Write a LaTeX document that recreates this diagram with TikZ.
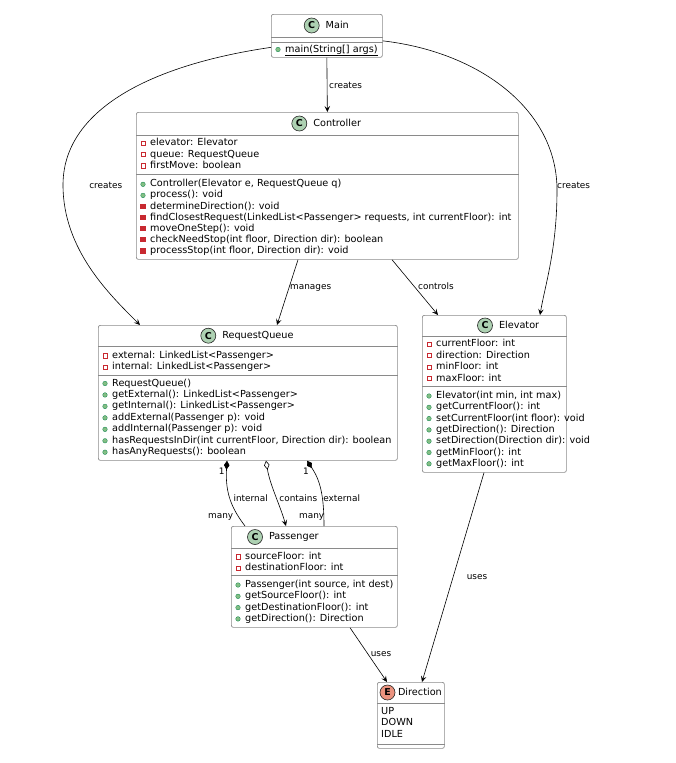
\documentclass[tikz,border=0pt]{standalone}
\usepackage{fontspec}
\setmainfont{DejaVu Sans}
\usetikzlibrary{arrows.meta, positioning}

\definecolor{classgreen}{HTML}{ADD1B2}
\definecolor{enumred}{HTML}{EB937F}
\definecolor{privred}{HTML}{C82930}
\definecolor{pubgreen}{HTML}{84BE84}
\definecolor{pubdark}{HTML}{038048}
\definecolor{boxline}{HTML}{8A8A8A}

% member icons: private field, private method, public method
\newcommand{\iconpf}[2]{\draw[privred, line width=0.6pt] ({#1-2.2},{#2-2.2}) rectangle ({#1+2.2},{#2+2.2});}
\newcommand{\iconpm}[2]{\fill[privred] ({#1-2.6},{#2-2.6}) rectangle ({#1+2.6},{#2+2.6});}
\newcommand{\iconum}[2]{\filldraw[fill=pubgreen, draw=pubdark, line width=0.3pt] ({#1},{#2}) circle (2.3pt);}
% one member row: kind, name, box left, y, text
\newcommand{\mrow}[5]{\csname icon#1\endcsname{#3+7}{#4}
  \node[member] (#2) at ({#3+14},{#4}) {#5};}

\begin{document}
\begin{tikzpicture}[x=1pt, y=-1pt,
    classbox/.style={draw=boxline, fill=white, line width=0.7pt, rounded corners=2pt, anchor=north west, inner sep=0pt},
    member/.style={anchor=west, inner sep=0pt, text height=7pt, text depth=2pt, font=\fontsize{9.7}{11}\selectfont},
    title/.style={member, right=6pt of #1},
    badge/.style={circle, draw=black!85, line width=0.6pt, minimum size=15pt, inner sep=0pt, font=\fontsize{9.5}{10}\bfseries\selectfont},
    elabel/.style={inner sep=0pt, text height=7pt, text depth=2pt, font=\fontsize{8.9}{10}\selectfont},
    uses/.style={draw=black, line width=0.6pt, -{Stealth[length=6pt, width=5.5pt, inset=2.5pt]}},
    compo/.style={draw=black, line width=0.6pt, {Diamond[length=9pt, width=5.5pt]}-},
    aggr/.style={draw=black, line width=0.6pt, {Diamond[open, length=9pt, width=5.5pt]}-{Stealth[length=6pt, width=5.5pt, inset=2.5pt]}}]
  \useasboundingbox (0,0) rectangle (675,763);

  % Main
  \node[classbox, minimum width=111pt, minimum height=43pt] (main) at (271,14) {};
  \node[badge, fill=classgreen] (main-c) at (311.7,25.5) {C};
  \node[title=main-c] (main-t) {Main};
  \draw[boxline, line width=0.7pt] (main.west |- 0,37) -- (main.east |- 0,37);
  \draw[boxline, line width=0.7pt] (main.west |- 0,42) -- (main.east |- 0,42);
  \mrow{um}{main-m1}{271}{49.5}{\underline{main(String[] args)}}

  % Controller
  \node[classbox, minimum width=382pt, minimum height=147pt] (ctrl) at (136,112) {};
  \node[badge, fill=classgreen] (ctrl-c) at (299.3,123.5) {C};
  \node[title=ctrl-c] (ctrl-t) {Controller};
  \draw[boxline, line width=0.7pt] (ctrl.west |- 0,135) -- (ctrl.east |- 0,135);
  \draw[boxline, line width=0.7pt] (ctrl.west |- 0,174.5) -- (ctrl.east |- 0,174.5);
  \foreach \k/\t [count=\i] in {pf/{elevator: Elevator}, pf/{queue: RequestQueue}, pf/{firstMove: boolean}}
    {\mrow{\k}{ctrl-f\i}{136}{143.3+(\i-1)*11.2}{\t}}
  \foreach \k/\t [count=\i] in {um/{Controller(Elevator e, RequestQueue q)}, um/{process(): void},
      pm/{determineDirection(): void}, pm/{findClosestRequest(LinkedList<Passenger> requests, int currentFloor): int},
      pm/{moveOneStep(): void}, pm/{checkNeedStop(int floor, Direction dir): boolean},
      pm/{processStop(int floor, Direction dir): void}}
    {\mrow{\k}{ctrl-m\i}{136}{184.3+(\i-1)*11.1}{\t}}

  % RequestQueue
  \node[classbox, minimum width=299pt, minimum height=135pt] (rq) at (98,325) {};
  \node[badge, fill=classgreen] (rq-c) at (208.3,335.7) {C};
  \node[title=rq-c] (rq-t) {RequestQueue};
  \draw[boxline, line width=0.7pt] (rq.west |- 0,346.5) -- (rq.east |- 0,346.5);
  \draw[boxline, line width=0.7pt] (rq.west |- 0,375) -- (rq.east |- 0,375);
  \foreach \k/\t [count=\i] in {pf/{external: LinkedList<Passenger>}, pf/{internal: LinkedList<Passenger>}}
    {\mrow{\k}{rq-f\i}{98}{355.7+(\i-1)*11.5}{\t}}
  \foreach \k/\t [count=\i] in {um/{RequestQueue()}, um/{getExternal(): LinkedList<Passenger>},
      um/{getInternal(): LinkedList<Passenger>}, um/{addExternal(Passenger p): void},
      um/{addInternal(Passenger p): void}, um/{hasRequestsInDir(int currentFloor, Direction dir): boolean},
      um/{hasAnyRequests(): boolean}}
    {\mrow{\k}{rq-m\i}{98}{383.5+(\i-1)*11.45}{\t}}

  % Elevator
  \node[classbox, minimum width=144pt, minimum height=157pt] (elev) at (422,315) {};
  \node[badge, fill=classgreen] (elev-c) at (485,325.5) {C};
  \node[title=elev-c] (elev-t) {Elevator};
  \draw[boxline, line width=0.7pt] (elev.west |- 0,336) -- (elev.east |- 0,336);
  \draw[boxline, line width=0.7pt] (elev.west |- 0,386.5) -- (elev.east |- 0,386.5);
  \foreach \k/\t [count=\i] in {pf/{currentFloor: int}, pf/{direction: Direction}, pf/{minFloor: int}, pf/{maxFloor: int}}
    {\mrow{\k}{elev-f\i}{422}{344+(\i-1)*11.5}{\t}}
  \foreach \k/\t [count=\i] in {um/{Elevator(int min, int max)}, um/{getCurrentFloor(): int},
      um/{setCurrentFloor(int floor): void}, um/{getDirection(): Direction},
      um/{setDirection(Direction dir): void}, um/{getMinFloor(): int}, um/{getMaxFloor(): int}}
    {\mrow{\k}{elev-m\i}{422}{396+(\i-1)*11.3}{\t}}

  % Passenger
  \node[classbox, minimum width=166pt, minimum height=101pt] (pass) at (231,526) {};
  \node[badge, fill=classgreen] (pass-c) at (255,537) {C};
  \node[title=pass-c] (pass-t) {Passenger};
  \draw[boxline, line width=0.7pt] (pass.west |- 0,548) -- (pass.east |- 0,548);
  \draw[boxline, line width=0.7pt] (pass.west |- 0,575) -- (pass.east |- 0,575);
  \foreach \k/\t [count=\i] in {pf/{sourceFloor: int}, pf/{destinationFloor: int}}
    {\mrow{\k}{pass-f\i}{231}{556.7+(\i-1)*11.5}{\t}}
  \foreach \k/\t [count=\i] in {um/{Passenger(int source, int dest)}, um/{getSourceFloor(): int},
      um/{getDestinationFloor(): int}, um/{getDirection(): Direction}}
    {\mrow{\k}{pass-m\i}{231}{585+(\i-1)*11.3}{\t}}

  % Direction (enum)
  \node[classbox, minimum width=67pt, minimum height=66pt] (dir) at (377,682) {};
  \node[badge, fill=enumred] (dir-c) at (387.5,692.5) {E};
  \node[member, right=2.5pt of dir-c] (dir-t) {Direction};
  \draw[boxline, line width=0.7pt] (dir.west |- 0,703) -- (dir.east |- 0,703);
  \draw[boxline, line width=0.7pt] (dir.west |- 0,744) -- (dir.east |- 0,744);
  \node[member] (dir-v1) at (381,711.7) {UP};
  \node[member] (dir-v2) at (381,723.3) {DOWN};
  \node[member] (dir-v3) at (381,735) {IDLE};

  % connectors
  \draw[uses] (main.south) -- (ctrl.north);
  \node[elabel, anchor=west] (l-cr1) at (329,86) {creates};
  \draw[uses] ([yshift=-11.5pt]main.west) .. controls (150,65) and (63,110) .. (63,185)
    .. controls (63,250) and (110,295) .. ([xshift=42pt]rq.north west);
  \node[elabel] (l-cr2) at (105.7,186) {creates};
  \draw[uses] ([yshift=-5pt]main.east) .. controls (480,52) and (557,110) .. (557,190)
    .. controls (557,250) and (545,285) .. ([xshift=118pt]elev.north west);
  \node[elabel, anchor=west] (l-cr3) at (557,186) {creates};

  \draw[uses] ([xshift=162pt]ctrl.south west) -- ([xshift=179pt]rq.north west);
  \node[elabel, anchor=west] (l-man) at (290,287) {manages};
  \draw[uses] ([xshift=256pt]ctrl.south west) -- ([xshift=16pt]elev.north west);
  \node[elabel, anchor=west] (l-con) at (418,287) {controls};

  \draw[compo] ([xshift=129pt]rq.south west) .. controls (225,495) and (233,510) .. ([xshift=14pt]pass.north west);
  \draw[aggr] ([xshift=168pt]rq.south west) .. controls (270,485) and (280,505) .. ([xshift=55pt]pass.north west);
  \draw[compo] ([xshift=209pt]rq.south west) .. controls (320,480) and (324,495) .. ([xshift=93pt]pass.north west);
  \node[elabel] (l-one1) at (221.7,471.7) {1};
  \node[elabel] (l-one2) at (306,471.7) {1};
  \node[elabel] (l-int) at (250.7,499.3) {internal};
  \node[elabel] (l-cnt) at (298.3,499.3) {contains};
  \node[elabel] (l-ext) at (341.7,499.3) {external};
  \node[elabel] (l-many1) at (220.7,515.7) {many};
  \node[elabel] (l-many2) at (311.7,515.7) {many};

  \draw[uses] ([xshift=119pt]pass.south west) -- ([xshift=10pt]dir.north west);
  \node[elabel] (l-uses1) at (381,654) {uses};
  \draw[uses] ([xshift=62pt]elev.south west) -- ([xshift=45pt]dir.north west);
  \node[elabel] (l-uses2) at (477,577) {uses};
\end{tikzpicture}
\end{document}
